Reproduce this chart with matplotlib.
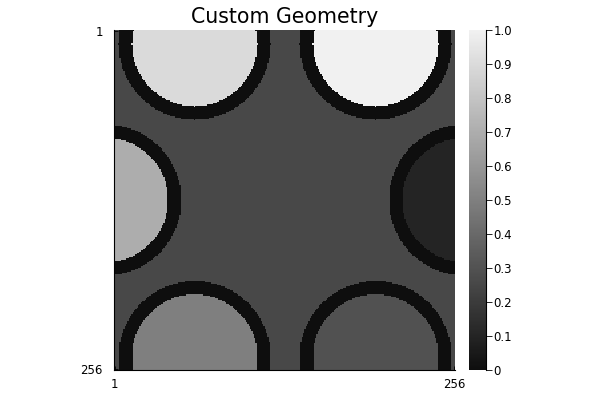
import numpy as np
import matplotlib
matplotlib.use("Agg")
import matplotlib.pyplot as plt
from matplotlib.colors import LinearSegmentedColormap

# Geometry description (1-based pixel coordinates on a 256x256 grid)
grid_size = 256
circle_cx = [61, 197, -6, 264, 61, 197]
circle_cy = [11, 11, 128.5, 128.5, 246.5, 246.5]
inner_radius = 47
outer_radius = 57
circle_values = [0.9, 1.0, 0.7, 0.1, 0.5, 0.3]
ring_value = 0.0
background_value = 0.26
tick_labels = ["1", "256"]
cbar_ticks = [0, 0.1, 0.2, 0.3, 0.4, 0.5, 0.6, 0.7, 0.8, 0.9, 1.0]
cbar_labels = ["0", "0.1", "0.2", "0.3", "0.4", "0.5", "0.6", "0.7", "0.8", "0.9", "1.0"]

idx = np.arange(1, grid_size + 1)
X, Y = np.meshgrid(idx, idx)
img = np.full((grid_size, grid_size), background_value)
for cx, cy, v in zip(circle_cx, circle_cy, circle_values):
    d = np.hypot(X - cx, Y - cy)
    img[d <= outer_radius] = ring_value
    img[d <= inner_radius] = v

cmap = LinearSegmentedColormap.from_list("grays", ["#0e0e0e", "#f1f1f1"])

fig = plt.figure(figsize=(6, 4), dpi=100)
ax = fig.add_axes([0.19, 0.075, 0.5683, 0.85])
im = ax.imshow(img, cmap=cmap, vmin=0, vmax=1, origin="upper",
               extent=(0.5, grid_size + 0.5, grid_size + 0.5, 0.5),
               interpolation="nearest", aspect="auto")
ax.set_xlim(0.5, grid_size + 0.5)
ax.set_ylim(grid_size + 0.5, 0.5)
ax.set_xticks([1, grid_size])
ax.set_xticklabels(tick_labels)
ax.set_yticks([1, grid_size])
ax.set_yticklabels(tick_labels)
ax.tick_params(direction="in", length=3, labelsize=8.5, width=0.6)
ax.tick_params(axis="y", pad=8)
ax.tick_params(axis="x", pad=6)
for s in ["top", "right"]:
    ax.spines[s].set_visible(False)
for s in ["left", "bottom"]:
    ax.spines[s].set_linewidth(0.8)
ax.set_title("Custom Geometry", fontsize=14.8, pad=5)

cax = fig.add_axes([0.781, 0.075, 0.0295, 0.85])
cb = fig.colorbar(im, cax=cax)
cb.outline.set_visible(False)
cb.set_ticks(cbar_ticks)
cb.set_ticklabels(cbar_labels)
cax.tick_params(direction="out", length=4, labelsize=8.5, width=0.6, pad=1)
cax.spines["right"].set_visible(True)
cax.spines["right"].set_linewidth(0.8)

fig.savefig("out.png", dpi=100)
